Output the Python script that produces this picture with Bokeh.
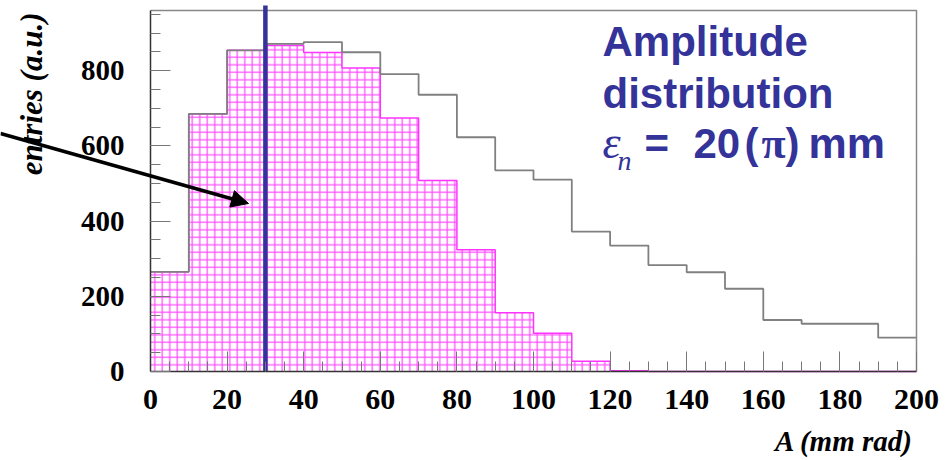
from bokeh.plotting import figure
from bokeh.models import Range1d, Label, Arrow, NormalHead, FixedTicker
from bokeh.embed import file_html
from bokeh.resources import INLINE

# ---- data ----
bin_edges = [0, 10, 20, 30, 40, 50, 60, 70, 80, 90, 100,
             110, 120, 130, 140, 150, 160, 170, 180, 190, 200]
all_entries = [265, 685, 854, 871, 876, 849, 791, 736, 623, 535,
               510, 372, 335, 283, 264, 220, 137, 127, 127, 90]
cut_entries = [265, 685, 854, 867, 848, 807, 674, 508, 324, 156,
               102, 27, 2, 0, 0, 0, 0, 0, 0, 0]
marker_amplitude = 30
x_major_ticks = [0, 20, 40, 60, 80, 100, 120, 140, 160, 180, 200]
y_major_ticks = [0, 200, 400, 600, 800]
x_title = "A (mm rad)"
y_title = "entries (a.u.)"
note_lines = ["Amplitude", "distribution"]

# ---- layout (pixels) ----
W, H = 949, 460
FRAME_L, FRAME_R, FRAME_T, FRAME_B = 150, 916, 10, 371
X_MAX, Y_MAX = 200, 960
SX = (FRAME_R - FRAME_L) / X_MAX
SY = (FRAME_B - FRAME_T) / Y_MAX
BASE_K = 0.375  # baseline compensation (fraction of font size)


def dx(px):
    return (px - FRAME_L) / SX


def dy(py):
    return (FRAME_B - py) / SY


BLUE = "#333399"
PINK = "#ff33ff"

p = figure(width=W, height=H, x_range=Range1d(dx(0), dx(W)), y_range=Range1d(dy(H), dy(0)),
           output_backend="svg", toolbar_location=None,
           min_border_left=0, min_border_right=0, min_border_top=0, min_border_bottom=0)
p.title.text = ""
p.title.visible = False
p.background_fill_color = "white"
p.border_fill_color = "white"
p.outline_line_color = None
p.xgrid.visible = False
p.ygrid.visible = False

# hatched (cut) histogram
p.quad(left=bin_edges[:-1], right=bin_edges[1:], bottom=0, top=cut_entries,
       fill_alpha=0, line_alpha=0, hatch_pattern="cross", hatch_color=PINK,
       hatch_scale=7.5, hatch_weight=1.2, hatch_alpha=0.9)
p.step(x=bin_edges, y=cut_entries + [cut_entries[-1]], mode="after",
       line_color=PINK, line_width=1.5)
# full histogram outline
p.step(x=bin_edges, y=all_entries + [all_entries[-1]], mode="after",
       line_color="#808080", line_width=1.8)

# frame top and right edges
p.line(x=[0, X_MAX, X_MAX], y=[Y_MAX, Y_MAX, 0], line_color="#888888", line_width=1.5)

# blue marker line
p.segment(x0=[marker_amplitude], y0=[0], x1=[marker_amplitude], y1=[dy(5)],
          line_color=BLUE, line_width=4.5)

# axes styling (ROOT-like), placed at the data origin
xa = p.xaxis[0]
ya = p.yaxis[0]
xa.fixed_location = 0
ya.fixed_location = 0
xa.bounds = (0, X_MAX)
ya.bounds = (0, Y_MAX)
xa.ticker = FixedTicker(ticks=x_major_ticks, minor_ticks=list(range(0, X_MAX + 1, 5)))
ya.ticker = FixedTicker(ticks=y_major_ticks, minor_ticks=list(range(0, Y_MAX, 50)))
for ax, fs, standoff in ((xa, "30px", 18), (ya, "29px", 26)):
    ax.major_tick_in = 20
    ax.major_tick_out = 0
    ax.minor_tick_in = 10
    ax.minor_tick_out = 0
    ax.major_tick_line_color = "#777777"
    ax.minor_tick_line_color = "#777777"
    ax.axis_line_color = "#333333"
    ax.axis_line_width = 1.5
    ax.major_label_text_font = "Liberation Serif"
    ax.major_label_text_font_style = "bold"
    ax.major_label_text_font_size = fs
    ax.major_label_text_color = "black"
    ax.major_label_standoff = standoff


def text_at(px, py, txt, font, style, size, color, align="left"):
    p.add_layout(Label(x=dx(px), y=dy(py - BASE_K * size), text=txt, text_align=align,
                       text_baseline="alphabetic", text_font=font, text_font_style=style,
                       text_font_size=f"{size}px", text_color=color))


# axis titles placed like ROOT (aligned to the axis end)
text_at(913, 451.7, x_title, "Liberation Serif", "bold italic", 29, "black", align="right")
YT = 31
p.add_layout(Label(x=dx(43 - BASE_K * YT), y=dy(12), text=y_title, angle=1.5707963, text_align="right",
                   text_baseline="alphabetic", text_font="Liberation Serif",
                   text_font_style="bold italic", text_font_size=f"{YT}px", text_color="black"))

# annotation text
SANS = "Liberation Sans"
SERIF = "Liberation Serif"
for txt, py in zip(note_lines, [56.7, 108.3]):
    text_at(602, py, txt, SANS, "bold", 42, BLUE)
text_at(602, 159, "\u03b5", SERIF, "italic", 46, BLUE)
text_at(617, 170, "n", SERIF, "italic", 28, BLUE)
text_at(644, 159, "=", SANS, "bold", 42, BLUE)
text_at(693, 159, "20", SANS, "bold", 42, BLUE)
text_at(744, 159, "(", SANS, "bold", 42, BLUE)
text_at(761, 159, "\u03c0", SERIF, "bold", 44, BLUE)
text_at(785, 159, ")", SANS, "bold", 42, BLUE)
text_at(808, 159, "mm", SANS, "bold", 43, BLUE)

# arrow pointing into the hatched area
p.add_layout(Arrow(end=NormalHead(size=17, fill_color="black", line_color="black"),
                   x_start=dx(0), y_start=dy(133), x_end=dx(248), y_end=dy(203),
                   line_width=3.5, line_color="black"))

open("out.html", "w").write(file_html(p, INLINE))
